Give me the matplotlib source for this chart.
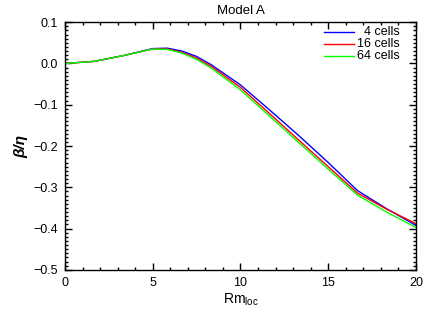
import matplotlib
matplotlib.use("Agg")
import matplotlib.pyplot as plt
from matplotlib.ticker import MultipleLocator, FuncFormatter

plt.rcParams["font.family"] = ["Liberation Sans", "DejaVu Sans"]

# Rm_loc sample points
rm = [0.0, 1.67, 3.33, 5.0, 5.83, 6.67, 7.5, 8.33, 10.0, 11.67, 13.33, 15.0, 16.67, 18.33, 20.0]

beta_4 = [0.0, 0.005, 0.019, 0.036, 0.037, 0.030, 0.017, -0.003, -0.052, -0.113, -0.175, -0.240, -0.308, -0.352, -0.392]
beta_16 = [0.0, 0.005, 0.019, 0.035, 0.035, 0.027, 0.013, -0.007, -0.058, -0.122, -0.186, -0.250, -0.314, -0.353, -0.388]
beta_64 = [0.0, 0.005, 0.019, 0.035, 0.034, 0.025, 0.010, -0.011, -0.064, -0.128, -0.192, -0.256, -0.319, -0.360, -0.397]

labels = ["4 cells", "16 cells", "64 cells"]
colors = ["#0000ff", "#ff0000", "#00ff00"]

fig = plt.figure(figsize=(4.36, 3.12), dpi=100)
ax = fig.add_axes([0.149, 0.135, 0.805, 0.794])

for y, lab, c in zip([beta_4, beta_16, beta_64], labels, colors):
    ax.plot(rm, y, color=c, lw=1.0, label=lab)

ax.set_xlim(0, 20)
ax.set_ylim(-0.5, 0.1)
ax.xaxis.set_major_locator(MultipleLocator(5))
ax.xaxis.set_minor_locator(MultipleLocator(1))
ax.yaxis.set_major_locator(MultipleLocator(0.1))
ax.yaxis.set_minor_locator(MultipleLocator(0.01))
ax.xaxis.set_major_formatter(FuncFormatter(lambda v, p: f"{v:.0f}"))
ax.yaxis.set_major_formatter(FuncFormatter(lambda v, p: f"{v:.1f}".replace("-", "\u2212")))
ax.tick_params(which="both", direction="in", top=True, right=True, labelsize=9, width=1.0, pad=5)
ax.tick_params(which="major", length=5)
ax.tick_params(which="minor", length=2.5)
for s in ax.spines.values():
    s.set_linewidth(1.0)

ax.set_title("Model A", fontsize=9.5, pad=6)
ax.set_xlabel(r"Rm$_\mathregular{loc}$", fontsize=10, labelpad=2)
ax.set_ylabel("β/η", fontsize=11, fontstyle="italic", fontweight="bold", labelpad=4)

# IDL-style legend: handles aligned on the left, labels right-aligned
for i, (lab, c) in enumerate(zip(labels, colors)):
    yy = 0.960 - i * 0.049
    ax.plot([0.738, 0.823], [yy, yy], color=c, lw=1.0, transform=ax.transAxes)
    ax.text(0.954, yy, lab, transform=ax.transAxes, ha="right", va="center", fontsize=9)

fig.savefig("out.png", dpi=100)
